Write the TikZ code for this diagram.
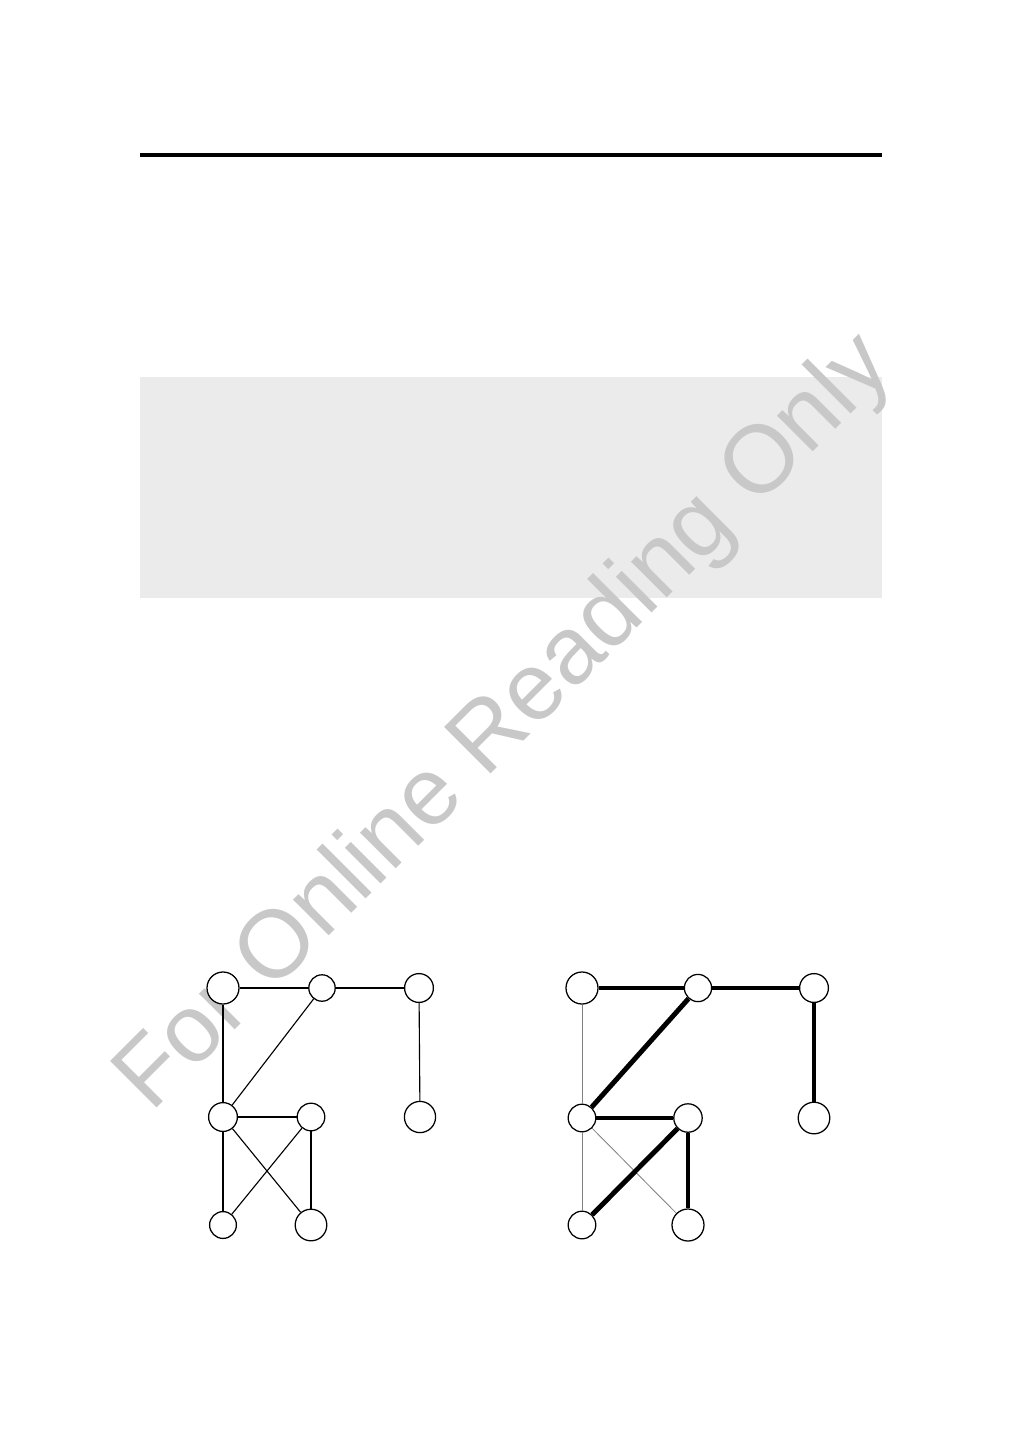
\documentclass[tikz,border=0pt]{standalone}
\usepackage{fontspec}
\usepackage{xcolor}
\newfontfamily\wmfont{Liberation Sans}
\definecolor{boxgray}{RGB}{235,235,235}
\definecolor{markgray}{RGB}{200,200,200}
\begin{document}
\begin{tikzpicture}[x=0.025cm, y=-0.025cm,
        vertex/.style={circle, draw, fill=white, line width=0.9pt, inner sep=0pt, minimum size=#1},
        vertex/.default=0.72cm,
        plain/.style={line width=0.8pt},
        chosen/.style={line width=3.5pt},
        unused/.style={line width=0.6pt, gray}]

        \useasboundingbox (0,0) rectangle (1009,1441);

        \draw[line width=2.2pt] (140,155) -- (882,155);
        \fill[boxgray] (140,377) rectangle (882,598);

        \node[rotate=45, text=markgray, font=\wmfont\fontsize{68}{68}\selectfont] (mark) at (506,724) {For Online Reading Only};

        % left graph
        \node[vertex=0.8cm] (a) at (223,988) {};
        \node[vertex=0.66cm] (b) at (322,988) {};
        \node[vertex] (c) at (419,988) {};
        \node[vertex] (d) at (223,1117) {};
        \node[vertex=0.69cm] (e) at (311,1117) {};
        \node[vertex=0.78cm] (f) at (420,1117) {};
        \node[vertex=0.67cm] (g) at (223,1225) {};
        \node[vertex=0.79cm] (h) at (311,1225) {};

        \draw[plain] (a) -- (b);
        \draw[plain] (b) -- (c);
        \draw[plain] (a) -- (d);
        \draw[plain] (b) -- (d);
        \draw[plain] (c) -- (f);
        \draw[plain] (d) -- (e);
        \draw[plain] (d) -- (g);
        \draw[plain] (d) -- (h);
        \draw[plain] (e) -- (g);
        \draw[plain] (e) -- (h);

        % right graph
        \node[vertex=0.8cm] (a2) at (582,988) {};
        \node[vertex=0.68cm] (b2) at (698,988) {};
        \node[vertex] (c2) at (814,988) {};
        \node[vertex=0.69cm] (d2) at (582,1118) {};
        \node[vertex=0.71cm] (e2) at (688,1118) {};
        \node[vertex=0.79cm] (f2) at (814,1118) {};
        \node[vertex=0.69cm] (g2) at (582,1225) {};
        \node[vertex=0.8cm] (h2) at (688,1225) {};

        \draw[chosen] (a2) -- (b2);
        \draw[chosen] (b2) -- (c2);
        \draw[unused] (a2) -- (d2);
        \draw[chosen] (b2) -- (d2);
        \draw[chosen] (c2) -- (f2);
        \draw[chosen] (d2) -- (e2);
        \draw[unused] (d2) -- (g2);
        \draw[unused] (d2) -- (h2);
        \draw[chosen] (e2) -- (g2);
        \draw[chosen] (e2) -- (h2);

\end{tikzpicture}
\end{document}
